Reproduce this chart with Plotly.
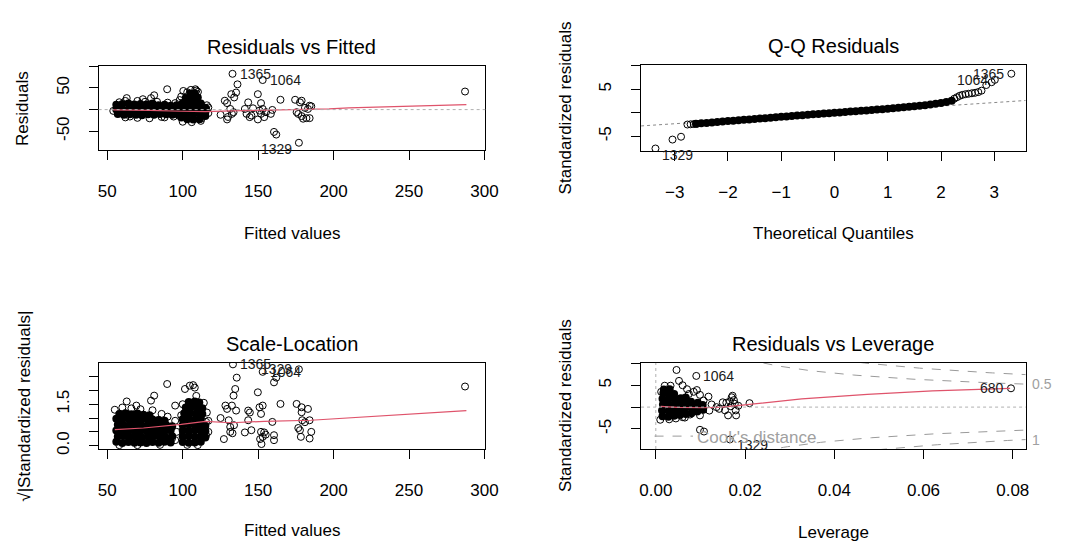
import plotly.graph_objects as go

W, H = 1090, 548
FONT = "Liberation Sans, Arial, sans-serif"
RED = "#DF536B"
GRAY = "#A0A0A0"
LABC = "#1a1a1a"

# ---------------- Panel 1: Residuals vs Fitted ----------------
p1_dense_fit = [56, 60, 64, 68, 72, 76, 80, 84, 88, 92, 96,
                56, 60, 64, 68, 72, 76, 80, 84, 88, 92, 96,
                57, 61, 65, 69, 73, 77, 81, 85, 89, 93, 97,
                99, 103, 107, 111, 115, 99, 103, 107, 111, 115,
                99, 103, 107, 111, 115, 100, 104, 108, 112, 102, 106, 110, 105, 108]
p1_dense_res = [11, 13, 14, 12, 13, 12, 14, 10, 11, 9, 10,
                0, 1, -1, 2, 0, 1, -1, 0, 1, -1, 0,
                -10, -12, -11, -12, -13, -11, -12, -10, -11, -12, -12,
                -18, -22, -23, -22, -15, -7, -9, -10, -9, -6,
                4, 3, 2, 3, 4, 15, 16, 15, 14, 27, 30, 28, 37, 38]
p1_fit = [54, 58, 62, 70, 75, 83, 90, 95, 62, 70, 78, 86, 94, 100, 106, 112, 117, 117, 116, 98, 99, 103, 109, 65, 88,
          89.7, 81.1, 79.0, 62.9, 73.6, 100.4, 105.4, 108.4, 110.1, 114, 115.5, 112.2, 125.1, 127.9, 129.4, 130,
          129.4, 131.5, 132.2, 134.1, 135.4, 136.3, 133, 132.6, 133.7, 143.4, 141.2, 142.3, 144.4, 145.5, 146.6,
          149.8, 151.9, 150.9, 151.9, 153, 154, 155.2, 153, 149.8, 159.4, 158.4, 160.5, 162, 164.8, 174.5, 177.7,
          178.8, 175.5, 176.6, 178.8, 179.8, 182, 183, 184.1, 185.2, 184.1, 181, 177, 287.1]
p1_res = [-3, 17, 20, 20, 18, 18, 16, 15, -18, -19, -20, -17, -16, -28, -29, -26, -8, 5, 10, 22, 30, 40, 44, -16, -18,
          47, 33, 26.5, 26.5, 24, 43, 45.5, 47, 41, 5, 1.5, -21, -12, 20.5, 15, -17,
          -22.7, 1.5, 35.6, 28, 39.4, 58.3, 82.6, -9.8, -6, 16.7, 1.5, -9.8, -17.4, -13.6, 3,
          35.6, 15, -2.3, -9.8, 1.5, -17.4, -6, 68.2, -22.7, -0.8, -9.8, -51.5, -57.6, 22.7, 22.7, 16.7,
          20.5, -6, -10, -15, -21, -19.7, 1.5, 9, 7.6, -19.7, 4, -76.5, 41.7]
p1_smooth_fit = [54, 72, 78, 99, 115, 132, 154, 178, 197, 210, 240, 275, 288]
p1_smooth_res = [-0.5, -0.8, -2, -3.8, -4.5, -3, -1.5, -1, 1.5, 4, 7, 10, 11.5]
p1_lab = ["1365", "1064", "1329"]
p1_lab_fit = [133, 153, 177]
p1_lab_res = [82.6, 68.2, -76.5]

# ---------------- Panel 2: Q-Q Residuals ----------------
qq_dense_theo = [-2.6, -2.5, -2.4, -2.3, -2.2, -2.1, -2.0, -1.9, -1.8, -1.7, -1.6, -1.5, -1.4, -1.3, -1.2,
                 -1.1, -1.0, -0.9, -0.8, -0.7, -0.6, -0.5, -0.4, -0.3, -0.2, -0.1, 0.0, 0.1, 0.2, 0.3, 0.4,
                 0.5, 0.6, 0.7, 0.8, 0.9, 1.0, 1.1, 1.2, 1.3, 1.4, 1.5, 1.6, 1.7, 1.8, 1.9, 2.0, 2.1, 2.2]
qq_dense_std = [-2.35, -2.25, -2.15, -2.05, -1.95, -1.86, -1.77, -1.68, -1.59, -1.50, -1.41, -1.32, -1.23,
                -1.14, -1.05, -0.96, -0.87, -0.78, -0.69, -0.60, -0.51, -0.42, -0.34, -0.25, -0.16, -0.08,
                0.0, 0.08, 0.17, 0.25, 0.34, 0.42, 0.50, 0.59, 0.67, 0.76, 0.85, 0.95, 1.05, 1.15, 1.26,
                1.37, 1.49, 1.62, 1.76, 1.92, 2.08, 2.28, 2.55]
qq_theo = [-3.36, -3.04, -2.88, -2.76, -2.70, -2.64, -2.58,
           2.25, 2.3, 2.35, 2.4, 2.46, 2.52, 2.58, 2.64, 2.7, 2.76, 2.85, 2.95, 3.01, 3.32]
qq_std = [-7.6, -5.7, -5.1, -2.5, -2.45, -2.4, -2.35,
          3.0, 3.3, 3.6, 3.8, 3.95, 4.05, 4.15, 4.25, 4.4, 4.7, 5.9, 6.5, 7.0, 8.3]
qq_line_slope = 0.75
qq_line_intercept = -0.08
qq_lab = ["1365", "1064", "1329"]
qq_lab_theo = [3.32, 3.01, -3.36]
qq_lab_std = [8.3, 7.0, -7.6]

# ---------------- Panel 3: Scale-Location ----------------
p3_dense_fit = [56, 60, 64, 68, 72, 76, 80, 84, 88, 92,
                57, 61, 65, 69, 73, 77, 81, 85, 89, 93,
                56, 60, 64, 68, 72, 76, 80, 84, 88, 92,
                57, 61, 65, 69, 73, 77, 81, 85, 89, 93,
                56, 60, 64, 68, 72, 76, 80, 84, 88,
                58, 62, 66, 70, 74, 78,
                100, 104, 108, 112, 100, 104, 108, 112, 115, 100, 104, 108, 112, 115,
                100, 104, 108, 112, 115, 100, 104, 108, 112, 101, 105, 109, 113,
                102, 106, 110, 113, 104, 108, 111]
p3_dense_sq = [0.14, 0.1, 0.13, 0.11, 0.12, 0.1, 0.13, 0.11, 0.14, 0.12,
               0.33, 0.35, 0.32, 0.34, 0.31, 0.33, 0.35, 0.32, 0.3, 0.34,
               0.55, 0.53, 0.56, 0.54, 0.52, 0.55, 0.53, 0.56, 0.52, 0.55,
               0.76, 0.74, 0.77, 0.75, 0.73, 0.76, 0.74, 0.72, 0.75, 0.7,
               0.97, 0.95, 0.98, 0.96, 0.94, 0.97, 0.95, 0.93, 0.9,
               1.15, 1.17, 1.14, 1.16, 1.12, 1.1,
               0.13, 0.11, 0.12, 0.14, 0.33, 0.35, 0.32, 0.34, 0.3, 0.55, 0.53, 0.56, 0.54, 0.52,
               0.75, 0.77, 0.74, 0.76, 0.72, 0.96, 0.98, 0.95, 0.97, 1.17, 1.19, 1.16, 1.15,
               1.38, 1.4, 1.37, 1.35, 1.58, 1.6, 1.56]
p3_fit = [55, 60, 66, 72, 80, 86, 90, 95, 96, 95, 58, 70, 85, 103, 110, 117, 117, 116, 114, 100, 99,
          89.7, 81.1, 79, 62.9, 69.3, 101.5, 104.7, 106.9, 108, 109, 95, 92.9, 115.5, 115.5, 125.1, 127.3,
          128.3, 129.4, 130.5, 131.5, 131.5, 132.6, 133.7, 134.8, 135.8, 133.3, 134, 135.4, 133, 141.2, 143.4,
          143.4, 145.5, 144.5, 149.8, 150.9, 151.9, 153, 151.9, 153, 151.3, 152.2, 154, 155, 153, 159.4, 160.5,
          160.5, 160.5, 162, 164.8, 175.5, 176.6, 177.7, 178.8, 178.8, 179.2, 181, 183, 184.1, 184.1, 185.2,
          178.3, 177, 287.1]
p3_sq = [1.3, 1.38, 1.35, 1.32, 1.28, 1.15, 1.05, 0.9, 0.5, 0.2, 0.02, 0.02, 0.03, 0.03, 0.02, 0.5, 0.9,
         1.2, 1.55, 1.5, 1.1,
         2.23, 1.81, 1.63, 1.6, 1.45, 2.05, 2.17, 2.19, 2.1, 1.8, 1.45, 0.26, 0.86, 0.38, 1.0, 0.24,
         1.45, 1.33, 0.92, 0.68, 0.5, 1.45, 1.81, 2.05, 2.46, 2.94, 0.74, 1.27, 0.45, 0.48, 1.27,
         0.92, 0.56, 1.2, 1.93, 1.39, 1.15, 1.45, 0.5, 0.32, 0.24, 0.06, 0.48, 0.4, 2.67, 0.86, 0.38,
         0.2, 2.29, 2.46, 1.51, 1.51, 0.64, 0.56, 1.21, 1.39, 0.92, 0.85, 1.33, 0.92, 0.26, 0.5,
         0.32, 2.76, 2.14]
p3_smooth_fit = [55, 74, 99, 115, 132, 154, 185, 221, 265, 288]
p3_smooth_sq = [0.58, 0.64, 0.77, 0.88, 0.83, 0.88, 0.92, 1.04, 1.19, 1.27]
p3_lab = ["1365", "1064", "1329"]
p3_lab_fit = [133.3, 153, 177]
p3_lab_sq = [2.94, 2.67, 2.76]

# ---------------- Panel 4: Residuals vs Leverage ----------------
p4_dense_lev = [0.0015, 0.0014, 0.0016, 0.0015, 0.0017, 0.0018,
                0.0028, 0.0029, 0.0027, 0.0028, 0.0030, 0.0031,
                0.0041, 0.0042, 0.0040, 0.0043, 0.0041,
                0.0054, 0.0055, 0.0053, 0.0056,
                0.0067, 0.0066, 0.0068, 0.0067,
                0.0080, 0.0081, 0.0079,
                0.0093, 0.0092, 0.0094,
                0.0106, 0.0105]
p4_dense_std = [-2.1, -0.8, 0.6, 1.9, 3.2, 4.0,
                -2.2, -0.9, 0.5, 1.8, 3.1, 4.1,
                -2.0, -0.7, 0.6, 1.9, 3.0,
                -1.8, -0.5, 0.8, 2.0,
                -1.6, -0.3, 1.0, 2.2,
                -1.4, -0.1, 1.2,
                -1.0, 0.2, 1.0,
                -0.6, 0.5]
p4_lev = [0.00464, 0.00907, 0.0052, 0.006, 0.0033, 0.007, 0.0085, 0.0092, 0.0074, 0.0099, 0.0118, 0.0107,
          0.0099, 0.0077, 0.0065, 0.0099, 0.0108, 0.0166,
          0.0136, 0.0142, 0.0155, 0.0162, 0.0158, 0.0166, 0.017, 0.0172, 0.0175, 0.0177, 0.0179, 0.018,
          0.0168, 0.0185, 0.021, 0.0150, 0.0796,
          0.0010, 0.0012, 0.0020, 0.0030, 0.0045, 0.0060, 0.0120, 0.0125]
p4_std = [8.5, 7.14, 6.0, 5.0, 4.9, 4.1, 3.5, 3.9, 3.0, 2.8, 2.4, 1.5,
          -1.9, -1.7, -2.4, -5.2, -5.6, -7.4,
          0, -0.4, -0.75, -1.9, 1.0, 1.3, 2.25, 2.6, 1.6, 0.75, -0.75, -1.9,
          0.2, 0.3, 0.9, 1.1, 4.3,
          -2.9, 3.5, 4.9, -2.8, -2.6, -2.3, -0.8, 0.6]
p4_smooth_lev = [0.0011, 0.0048, 0.0107, 0.015, 0.021, 0.0327, 0.0474, 0.062, 0.0794]
p4_smooth_std = [0.15, -0.07, -0.15, 0, 0.6, 1.87, 2.9, 3.7, 4.3]
p4_lab = ["1064", "680", "1329"]
p4_lab_lev = [0.00907, 0.0796, 0.0166]
p4_lab_std = [7.14, 4.3, -7.4]
n_params = 5
cook_levels = [0.5, 1.0]
lev_min = 0.0007

# axis ranges (R usr)
p1_xr, p1_yr = [44.3, 300.5], [-94, 100]
p2_xr, p2_yr = [-3.63, 3.59], [-8.2, 10.1]
p3_xr, p3_yr = [44.3, 300.5], [-0.12, 2.99]
p4_xr, p4_yr = [-0.0033, 0.0829], [-9.6, 10.1]


def dx(a, b):
    return [a / W, b / W]


def dy(top, bottom):
    return [1 - bottom / H, 1 - top / H]


fig = go.Figure()

OPEN = dict(symbol="circle-open", size=7, color="black", line=dict(width=1, color="black"))
FILL = dict(symbol="circle", size=8, color="black", line=dict(width=0))


def add_pts(x, y, ax, marker):
    fig.add_trace(go.Scatter(x=x, y=y, mode="markers", marker=marker, xaxis="x" + ax, yaxis="y" + ax,
                             showlegend=False, hoverinfo="skip"))


def add_line(x, y, ax, color, dash="solid", width=1):
    fig.add_trace(go.Scatter(x=x, y=y, mode="lines", line=dict(color=color, width=width, dash=dash),
                             xaxis="x" + ax, yaxis="y" + ax, showlegend=False, hoverinfo="skip"))


# Panel 1
add_pts(p1_dense_fit, p1_dense_res, "", FILL)
add_pts(p1_fit, p1_res, "", OPEN)
add_line(p1_smooth_fit, p1_smooth_res, "", RED, width=1.2)
# Panel 2
qq_line_x = p2_xr
qq_line_y = [qq_line_intercept + qq_line_slope * v for v in qq_line_x]
add_line(qq_line_x, qq_line_y, "2", "#888888", dash="dot")
add_pts(qq_dense_theo, qq_dense_std, "2", FILL)
add_pts(qq_theo, qq_std, "2", OPEN)
# Panel 3
add_pts(p3_dense_fit, p3_dense_sq, "3", FILL)
add_pts(p3_fit, p3_sq, "3", OPEN)
add_line(p3_smooth_fit, p3_smooth_sq, "3", RED, width=1.2)
# Panel 4: Cook's distance contours
hh = [lev_min + (p4_xr[1] - lev_min) * i / 100 for i in range(101)]
for c in cook_levels:
    cl = [(c * n_params * (1 - h) / h) ** 0.5 for h in hh]
    add_line(hh, cl, "4", "#9a9a9a", dash="dash")
    add_line(hh, [-v for v in cl], "4", "#9a9a9a", dash="dash")
add_pts(p4_dense_lev, p4_dense_std, "4", FILL)
add_pts(p4_lev, p4_std, "4", OPEN)
add_line(p4_smooth_lev, p4_smooth_std, "4", RED, width=1.2)

tickfont = dict(family=FONT, size=17, color="black")
base = dict(showline=True, mirror=True, linecolor="black", linewidth=1, ticks="outside", ticklen=9,
            tickwidth=1, tickcolor="black", showgrid=False, zeroline=False, tickfont=tickfont,
            fixedrange=True)
xstand = 16
ystand = 13

lay = dict(
    xaxis=dict(base, domain=dx(98, 490), range=p1_xr, anchor="y", tickvals=[50, 100, 150, 200, 250, 300],
               ticklabelstandoff=xstand),
    yaxis=dict(base, domain=dy(67, 152), range=p1_yr, anchor="x", tickvals=[-50, 0, 50, 100],
               ticktext=["-50", "", "50", ""], tickangle=-90, ticklabelstandoff=ystand),
    xaxis2=dict(base, domain=dx(648, 1038), range=p2_xr, anchor="y2", tickvals=[-3, -2, -1, 0, 1, 2, 3],
                ticklabelstandoff=xstand),
    yaxis2=dict(base, domain=dy(66, 153), range=p2_yr, anchor="x2", tickvals=[-5, 0, 5, 10],
                ticktext=["-5", "", "5", ""], tickangle=-90, ticklabelstandoff=ystand),
    xaxis3=dict(base, domain=dx(98, 490), range=p3_xr, anchor="y3", tickvals=[50, 100, 150, 200, 250, 300],
                ticklabelstandoff=xstand + 1),
    yaxis3=dict(base, domain=dy(367, 454), range=p3_yr, anchor="x3", tickvals=[0, 0.5, 1, 1.5, 2, 2.5],
                ticktext=["0.0", "", "", "1.5", "", ""], tickangle=-90, ticklabelstandoff=ystand),
    xaxis4=dict(base, domain=dx(648, 1038), range=p4_xr, anchor="y4",
                tickvals=[0, 0.02, 0.04, 0.06, 0.08], ticktext=["0.00", "0.02", "0.04", "0.06", "0.08"],
                ticklabelstandoff=xstand + 1),
    yaxis4=dict(base, domain=dy(367, 454), range=p4_yr, anchor="x4", tickvals=[-5, 0, 5, 10],
                ticktext=["-5", "", "5", ""], tickangle=-90, ticklabelstandoff=ystand),
)

ann = []
shapes = []


def title(ax, text):
    ann.append(dict(text=text, xref=f"x{ax} domain", yref=f"y{ax} domain", x=0.5, y=1, yshift=19,
                    yanchor="middle", showarrow=False, font=dict(family=FONT, size=20, color="black")))


def xlab(ax, text, shift=-82):
    ann.append(dict(text=text, xref=f"x{ax} domain", yref=f"y{ax} domain", x=0.5, y=0, yshift=shift,
                    yanchor="middle", showarrow=False, font=dict(family=FONT, size=17, color="black")))


def ylab(ax, text, shift=-76):
    ann.append(dict(text=text, xref=f"x{ax} domain", yref=f"y{ax} domain", x=0, y=0.5, xshift=shift,
                    xanchor="center", yanchor="middle", textangle=-90, showarrow=False,
                    font=dict(family=FONT, size=17, color="black")))


def idlabels(ax, texts, xs, ys, xmid):
    for t, x, y in zip(texts, xs, ys):
        right = x < xmid
        ann.append(dict(text=t, xref="x" + ax, yref="y" + ax, x=x, y=y, showarrow=False,
                        xanchor="left" if right else "right", xshift=5 if right else -5,
                        yshift=-6 if y < 0 else 0, yanchor="middle",
                        font=dict(family=FONT, size=14, color=LABC)))


title("", "Residuals vs Fitted")
title("2", "Q-Q Residuals")
title("3", "Scale-Location")
title("4", "Residuals vs Leverage")
xlab("", "Fitted values", -83)
xlab("2", "Theoretical Quantiles", -82)
xlab("3", "Fitted values", -81)
xlab("4", "Leverage", -83)
ylab("", "Residuals", -76)
ylab("2", "Standardized residuals", -76)
ylab("3", "√|Standardized residuals|", -75)
ylab("4", "Standardized residuals", -76)

idlabels("", p1_lab, p1_lab_fit, p1_lab_res, sum(p1_xr) / 2)
idlabels("2", qq_lab, qq_lab_theo, qq_lab_std, 0)
idlabels("3", p3_lab, p3_lab_fit, p3_lab_sq, sum(p3_xr) / 2)
idlabels("4", p4_lab, p4_lab_lev, p4_lab_std, sum(p4_xr) / 2)

# reference dotted lines
shapes.append(dict(type="line", xref="x domain", yref="y", x0=0, x1=1, y0=0, y1=0,
                   line=dict(color="#b0b0b0", width=1, dash="dot")))
shapes.append(dict(type="line", xref="x4 domain", yref="y4", x0=0, x1=1, y0=0, y1=0,
                   line=dict(color="#b0b0b0", width=1, dash="dot")))
shapes.append(dict(type="line", xref="x4", yref="y4 domain", x0=0, x1=0, y0=0, y1=1,
                   line=dict(color="#b0b0b0", width=1, dash="dot")))

# Cook's distance legend (bottom-left) and contour level labels
shapes.append(dict(type="line", xref="x4 domain", yref="y4 domain", x0=0.035, x1=0.135, y0=0.15, y1=0.15,
                   line=dict(color="#9a9a9a", width=1, dash="dash")))
ann.append(dict(text="Cook's distance", xref="x4 domain", yref="y4 domain", x=0.14, y=0.13,
                xanchor="left", yanchor="middle", showarrow=False,
                font=dict(family=FONT, size=17, color=GRAY)))
ymult = (n_params * (1 - p4_xr[1]) / p4_xr[1]) ** 0.5
ann.append(dict(text="0.5", xref="x4 domain", yref="y4", x=1, y=(0.5 ** 0.5) * ymult, xanchor="left",
                xshift=4, yanchor="middle", showarrow=False, font=dict(family=FONT, size=14, color=GRAY)))
ann.append(dict(text="1", xref="x4 domain", yref="y4", x=1, y=-ymult, xanchor="left",
                xshift=4, yanchor="middle", showarrow=False, font=dict(family=FONT, size=14, color=GRAY)))

fig.update_layout(**lay)
fig.update_layout(width=W, height=H, margin=dict(l=0, r=0, t=0, b=0), paper_bgcolor="white",
                  plot_bgcolor="white", annotations=ann, shapes=shapes, showlegend=False,
                  font=dict(family=FONT))
fig.write_html("out.html")
